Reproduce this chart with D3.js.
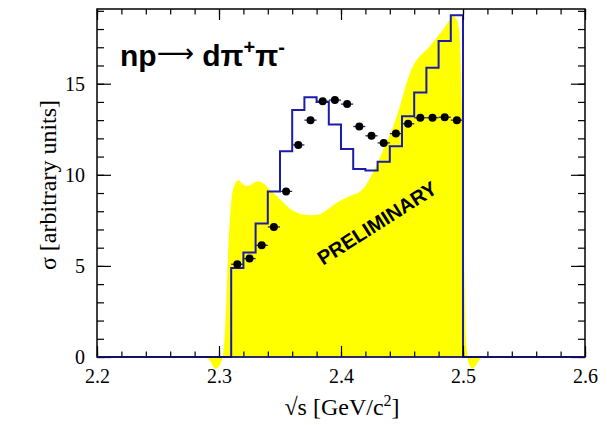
<!DOCTYPE html>
<html>
<head>
<meta charset="utf-8">
<script src="https://cdn.jsdelivr.net/npm/d3@7"></script>
<style>
  html, body { margin: 0; padding: 0; background: #fff; }
</style>
</head>
<body>
<svg id="chart" width="607" height="425" font-family="'Liberation Serif', 'Times New Roman', serif"></svg>
<script>
// bin centres (GeV), bin width 0.01
const energy = [2.315, 2.325, 2.335, 2.345, 2.355, 2.365, 2.375, 2.385, 2.395, 2.405,
                2.415, 2.425, 2.435, 2.445, 2.455, 2.465, 2.475, 2.485, 2.495];
const binWidth = 0.01;

// simulation histogram (blue)
const simValues = [4.88, 5.73, 7.33, 9.09, 11.29, 13.55, 14.26, 13.99, 12.76, 11.42,
                   10.32, 10.23, 10.72, 11.57, 13.22, 14.52, 15.88, 17.35, 18.76];

// data points
const dataValues = [5.09, 5.40, 6.13, 7.14, 9.09, 11.64, 13.00, 14.04, 14.10, 13.88,
                    12.65, 12.14, 11.75, 12.26, 12.80, 13.13, 13.13, 13.16, 13.00];

// yellow band (smooth curve)
const bandX = [2.286, 2.292, 2.297, 2.301, 2.304, 2.306, 2.308, 2.310, 2.313, 2.316,
               2.320, 2.323, 2.327, 2.332, 2.336, 2.342, 2.348, 2.354, 2.360, 2.367,
               2.375, 2.382, 2.388, 2.394, 2.400, 2.408, 2.416, 2.421, 2.426, 2.431,
               2.436, 2.442, 2.448, 2.454, 2.460, 2.466, 2.472, 2.478, 2.484, 2.489,
               2.492, 2.495, 2.497, 2.499, 2.501, 2.503, 2.505, 2.508, 2.511, 2.515];
const bandY = [0, -0.15, -0.65, -0.4, 0.5, 3.0, 6.5, 8.5, 9.5, 9.7,
               9.45, 9.38, 9.5, 9.65, 9.55, 9.15, 8.8, 8.4, 8.05, 7.85,
               7.78, 7.82, 8.05, 8.35, 8.6, 8.85, 9.1, 9.5, 10.1, 10.8,
               11.6, 12.5, 13.7, 15.1, 16.1, 16.6, 17.0, 17.5, 18.0, 18.5,
               18.7, 18.5, 17.8, 14.0, 5.0, 0.5, -0.4, -0.65, -0.4, 0];

const xDomain = [2.2, 2.6];
const yDomain = [0, 19.1];
const xMajor = [2.2, 2.3, 2.4, 2.5, 2.6];
const yMajor = [0, 5, 10, 15];

const svg = d3.select('#chart');
const margin = { top: 9, right: 22, bottom: 68, left: 97 };
const W = 607, H = 425;
const x = d3.scaleLinear().domain(xDomain).range([margin.left, W - margin.right]);
const y = d3.scaleLinear().domain(yDomain).range([H - margin.bottom, margin.top]);
const sans = '"Liberation Sans", Arial, Helvetica, sans-serif';

// yellow band
const band = bandX.map((v, i) => ({ x: v, y: bandY[i] }));
svg.append('path')
    .datum(band)
    .attr('fill', '#ffff00')
    .attr('d', d3.area()
        .x(d => x(d.x))
        .y0(y(0))
        .y1(d => y(d.y))
        .curve(d3.curveMonotoneX));

// blue histogram
const hist = [{ x: xDomain[0], v: 0 }];
energy.forEach((e, i) => hist.push({ x: e - binWidth / 2, v: simValues[i] }));
hist.push({ x: energy[energy.length - 1] + binWidth / 2, v: 0 });
hist.push({ x: xDomain[1], v: 0 });
svg.append('path')
    .datum(hist)
    .attr('fill', 'none')
    .attr('stroke', '#1c1ca8')
    .attr('stroke-width', 2)
    .attr('d', d3.line()
        .x(d => x(d.x))
        .y(d => y(d.v))
        .curve(d3.curveStepAfter));

// data points with horizontal bars
const pts = svg.append('g');
pts.selectAll('line')
    .data(energy)
    .enter()
    .append('line')
    .attr('x1', d => x(d - binWidth / 2))
    .attr('x2', d => x(d + binWidth / 2))
    .attr('y1', (d, i) => y(dataValues[i]))
    .attr('y2', (d, i) => y(dataValues[i]))
    .attr('stroke', '#2a2a66')
    .attr('stroke-width', 1.3);
pts.selectAll('circle')
    .data(energy)
    .enter()
    .append('circle')
    .attr('cx', d => x(d))
    .attr('cy', (d, i) => y(dataValues[i]))
    .attr('r', 4)
    .attr('fill', '#000');

// axes with inside ticks on all four sides
function styleAxis(g) {
    g.select('.domain').remove();
    g.selectAll('line').attr('stroke', '#000').attr('stroke-width', 1.2);
    g.attr('font-family', '"Liberation Serif", serif').attr('font-size', 20);
    g.selectAll('text').attr('fill', '#000');
}
const xMinor = d3.range(2.2, 2.6001, 0.02);
const yMinor = d3.range(0, 19.01, 1);

const bottomY = y(0), topY = y(yDomain[1]);
const leftX = x(xDomain[0]), rightX = x(xDomain[1]);

svg.append('g').attr('transform', `translate(0,${bottomY})`)
    .call(d3.axisBottom(x).tickValues(xMinor).tickSize(-5.5).tickFormat(''))
    .call(styleAxis);
svg.append('g').attr('transform', `translate(0,${bottomY})`)
    .call(d3.axisBottom(x).tickValues(xMajor).tickSize(-11).tickPadding(12).tickFormat(d3.format('.1f')))
    .call(styleAxis);
svg.append('g').attr('transform', `translate(0,${topY})`)
    .call(d3.axisTop(x).tickValues(xMinor).tickSize(-5.5).tickFormat(''))
    .call(styleAxis);
svg.append('g').attr('transform', `translate(0,${topY})`)
    .call(d3.axisTop(x).tickValues(xMajor).tickSize(-11).tickFormat(''))
    .call(styleAxis);

svg.append('g').attr('transform', `translate(${leftX},0)`)
    .call(d3.axisLeft(y).tickValues(yMinor).tickSize(-7).tickFormat(''))
    .call(styleAxis);
svg.append('g').attr('transform', `translate(${leftX},0)`)
    .call(d3.axisLeft(y).tickValues(yMajor).tickSize(-14).tickPadding(12).tickFormat(d3.format('d')))
    .call(styleAxis);
svg.append('g').attr('transform', `translate(${rightX},0)`)
    .call(d3.axisRight(y).tickValues(yMinor).tickSize(-7).tickFormat(''))
    .call(styleAxis);
svg.append('g').attr('transform', `translate(${rightX},0)`)
    .call(d3.axisRight(y).tickValues(yMajor).tickSize(-14).tickFormat(''))
    .call(styleAxis);

// frame
svg.append('rect')
    .attr('x', leftX).attr('y', topY)
    .attr('width', rightX - leftX).attr('height', bottomY - topY)
    .attr('fill', 'none').attr('stroke', '#000').attr('stroke-width', 1.5);

// zero line of the histogram drawn over the frame
svg.append('line')
    .attr('x1', leftX).attr('x2', rightX)
    .attr('y1', bottomY).attr('y2', bottomY)
    .attr('stroke', '#1c1ca8').attr('stroke-width', 1.2);

// axis titles
svg.append('text')
    .attr('x', (leftX + rightX) / 2 + 1)
    .attr('y', 415)
    .attr('text-anchor', 'middle')
    .attr('font-size', 24)
    .html('√s [GeV/c<tspan dy="-9" font-size="16">2</tspan><tspan dy="9">]</tspan>');

svg.append('text')
    .attr('transform', `translate(56,${(topY + bottomY) / 2 + 2}) rotate(-90)`)
    .attr('text-anchor', 'middle')
    .attr('font-size', 24)
    .text('σ [arbitrary units]');

// reaction label
const label = svg.append('text')
    .attr('x', 120).attr('y', 66)
    .attr('font-family', sans)
    .attr('font-weight', 'bold')
    .attr('font-size', 30);
label.append('tspan').text('np');
label.append('tspan').attr('dy', -4).attr('font-weight', 'normal').attr('font-family', '"DejaVu Sans", sans-serif')
    .attr('font-size', 26).text('\u27F6');
label.append('tspan').attr('dy', 4).text(' dπ');
label.append('tspan').attr('dy', -12).attr('font-size', 20).text('+');
label.append('tspan').attr('dy', 12).text('π');
label.append('tspan').attr('dy', -12).attr('font-size', 20).text('-');

// preliminary stamp
svg.append('text')
    .attr('transform', `translate(${x(2.4295)},${y(7.35)}) rotate(-32.5)`)
    .attr('text-anchor', 'middle')
    .attr('dy', '0.35em')
    .attr('font-family', sans)
    .attr('font-weight', 'bold')
    .attr('font-size', 20)
    .text('PRELIMINARY');
</script>
</body>
</html>
